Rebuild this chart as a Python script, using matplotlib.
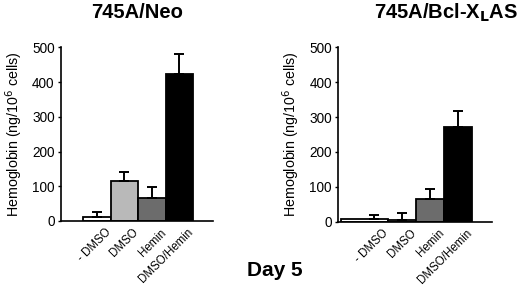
import matplotlib
matplotlib.use("Agg")
import matplotlib.pyplot as plt
from matplotlib.transforms import ScaledTranslation

plt.rcParams['font.family'] = ['Liberation Sans', 'DejaVu Sans']

# data
treatments = ["- DMSO", "DMSO", "Hemin", "DMSO/Hemin"]
neo_hb = [12, 115, 65, 423]
neo_err = [15, 27, 32, 57]
bcl_hb = [8, 6, 64, 272]
bcl_err = [12, 18, 30, 46]
bar_colors = ["white", "#b9b9b9", "#6c6c6c", "black"]

fig = plt.figure(figsize=(5.2, 2.86), dpi=100)
ax1 = fig.add_axes([0.1173, 0.2273, 0.2923, 0.6073])
ax2 = fig.add_axes([0.650, 0.2248, 0.296, 0.6098])


def panel(ax, vals, errs, wide_first=False):
    x = list(range(len(vals)))
    widths = [1.0] * len(vals)
    lefts = [i - 0.5 for i in x]
    if wide_first:
        # first bar in the right panel is drawn wider to the left
        lefts[0] = -1.19
        widths[0] = 1.69
    ax.bar(lefts, vals, width=widths, align='edge', color=bar_colors,
           edgecolor='black', linewidth=1.3, zorder=2)
    ax.errorbar(x, vals, yerr=[[0] * len(errs), errs], fmt='none',
                ecolor='black', elinewidth=1.4, capsize=3.5, capthick=1.4,
                zorder=3)
    ax.set_xlim(-1.31, 4.22)
    ax.set_ylim(0, 500)
    ax.set_yticks([0, 100, 200, 300, 400, 500])
    ax.spines['top'].set_visible(False)
    ax.spines['right'].set_visible(False)
    ax.spines['left'].set_linewidth(1.2)
    ax.spines['bottom'].set_linewidth(1.2)
    ax.tick_params(axis='y', length=2.5, width=1, pad=2, labelsize=9.8)
    ax.tick_params(axis='x', length=0, pad=4)
    ax.set_xticks(x)
    ax.set_xticklabels(treatments, rotation=45, ha='right',
                       rotation_mode='anchor', fontsize=8.3)
    off = ScaledTranslation(8 / 100, 0, fig.dpi_scale_trans)
    for lab in ax.get_xticklabels():
        lab.set_transform(lab.get_transform() + off)
    ax.set_ylabel("Hemoglobin (ng/10$^6$ cells)", fontsize=10.3, labelpad=5)


panel(ax1, neo_hb, neo_err)
panel(ax2, bcl_hb, bcl_err, wide_first=True)

fig.text(137 / 520, 1 - 12 / 286, "745A/Neo", ha='center', va='center',
         fontsize=14.5, fontweight='bold')
fig.text(446 / 520, 1 - 13 / 286, r"745A/Bcl-X$_\mathbf{L}$AS", ha='center',
         va='center', fontsize=14.5, fontweight='bold')
fig.text(275 / 520, 1 - 270 / 286, "Day 5", ha='center', va='center',
         fontsize=15, fontweight='bold')

fig.savefig("out.png", dpi=100)
